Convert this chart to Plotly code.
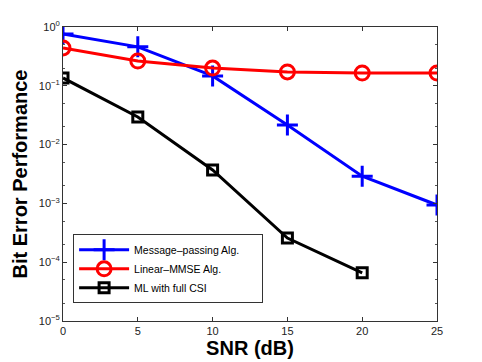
import plotly.graph_objects as go

snr = [0, 5, 10, 15, 20, 25]
mp_ber = [0.76, 0.46, 0.147, 0.0215, 0.0029, 0.00094]
mmse_ber = [0.44, 0.264, 0.2, 0.172, 0.165, 0.165]
ml_snr = [0, 5, 10, 15, 20]
ml_ber = [0.136, 0.0295, 0.0037, 0.000258, 0.000066]
y_tickvals = [1e-5, 1e-4, 1e-3, 1e-2, 1e-1, 1]
y_ticktext = ["10<sup>\u22125</sup>", "10<sup>\u22124</sup>", "10<sup>\u22123</sup>",
              "10<sup>\u22122</sup>", "10<sup>\u22121</sup>", "10<sup>0</sup>"]
pad = "\u00a0" * 6

fig = go.Figure()
fig.add_trace(go.Scatter(x=snr, y=mp_ber, mode="lines+markers", name="Message\u2013passing Alg." + pad,
                         line=dict(color="#0000ff", width=3),
                         marker=dict(symbol="cross-thin-open", size=15, line=dict(color="#0000ff", width=3))))
fig.add_trace(go.Scatter(x=snr, y=mmse_ber, mode="lines+markers", name="Linear\u2013MMSE Alg.",
                         line=dict(color="#ff0000", width=3),
                         marker=dict(symbol="circle-open", size=14, line=dict(color="#ff0000", width=3))))
fig.add_trace(go.Scatter(x=ml_snr, y=ml_ber, mode="lines+markers", name="ML with full CSI",
                         line=dict(color="#000000", width=3),
                         marker=dict(symbol="square-open", size=10, line=dict(color="#000000", width=3))))

axis_common = dict(showline=True, linecolor="#333333", linewidth=1, mirror="ticks",
                   ticks="inside", ticklen=4, tickcolor="#333333", showgrid=False, zeroline=False,
                   automargin=False,
                   tickfont=dict(family="Liberation Sans, Arial", size=11, color="#222222"))

# the page body has an 8px default margin; compensate so the plot lands where the reference has it
fig.update_layout(
    width=474, height=354,
    margin=dict(l=55, r=45, t=19, b=41),
    paper_bgcolor="white", plot_bgcolor="white",
    xaxis=dict(range=[0, 25], tickvals=snr, ticktext=[str(v) for v in snr],
               title=dict(text="<b>SNR (dB)</b>", font=dict(family="Liberation Sans, Arial", size=20, color="black"), standoff=0),
               **axis_common),
    yaxis=dict(type="log", range=[-5, 0], tickvals=y_tickvals, ticktext=y_ticktext,
               minor=dict(ticks="inside", ticklen=2, tickcolor="#555555", showgrid=False),
               title=dict(text="<b>Bit Error Performance</b>", font=dict(family="Liberation Sans, Arial", size=20, color="black"), standoff=5),
               **axis_common),
    legend=dict(x=0.027, y=0.295, xanchor="left", yanchor="top",
                bgcolor="white", bordercolor="#333333", borderwidth=1,
                font=dict(family="Liberation Sans, Arial", size=10.5, color="black"),
                tracegroupgap=0, itemwidth=50),
    showlegend=True,
)

fig.write_html("out.html")
